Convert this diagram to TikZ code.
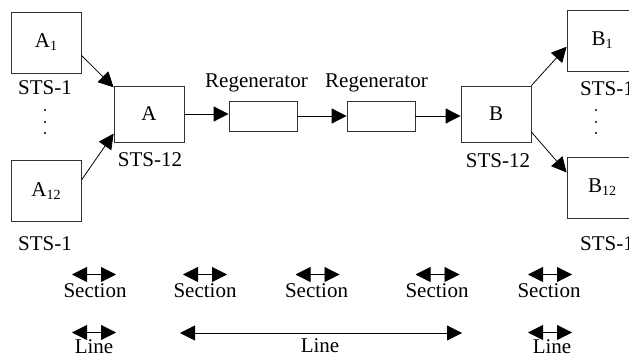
\documentclass[tikz,border=0pt]{standalone}
\usepackage{fontspec}
\setmainfont{Liberation Serif}
\usetikzlibrary{arrows.meta}
\newcommand\mysub[1]{\raisebox{-3pt}{\fontsize{14}{14}\selectfont #1}}
\begin{document}
\begin{tikzpicture}[x=1pt,y=-1pt,
  box/.style={draw=black!80,line width=0.8pt,rectangle,inner sep=0pt,minimum width=70pt,minimum height=61pt},
  arr/.style={line width=0.8pt,-{Triangle[length=15pt,width=15pt]}},
  darr/.style={line width=0.8pt,{Triangle[length=15pt,width=15pt]}-{Triangle[length=15pt,width=15pt]}},
  lbl/.style={anchor=base,inner sep=0pt},
  dot/.style={circle,fill=black,inner sep=0pt,minimum size=2.4pt},
  every node/.style={font=\fontsize{21}{25}\selectfont}]
\useasboundingbox (0,0) rectangle (629,358);
% boxes
\node[box] (A1) at (46,42.5) {A\mysub{1}};
\node[box] (A12) at (46,191) {A\mysub{12}};
\node[box,minimum height=56pt] (A) at (149,114) {A};
\node[box,minimum width=68pt,minimum height=30pt] (R1) at (263,116) {};
\node[box,minimum width=68pt,minimum height=30pt] (R2) at (381,116) {};
\node[box,minimum height=56pt] (B) at (496,114) {B};
\node[box] (B1) at (602,40.5) {B\mysub{1}};
\node[box] (B12) at (602,187.5) {B\mysub{12}};
% labels
\node[lbl] (sA1) at (45,95) {STS-1};
\node[lbl] (sA12) at (45,250) {STS-1};
\node[lbl] (sA) at (150,167) {STS-12};
\node[lbl] (sB) at (498,168) {STS-12};
\node[lbl] (sB1) at (607,96) {STS-1};
\node[lbl] (sB12) at (607,250) {STS-1};
\node[lbl] (r1) at (256.5,88) {Regenerator};
\node[lbl] (r2) at (376.5,88) {Regenerator};
% dots
\node[dot] (da1) at (45,110) {};
\node[dot] (da2) at (45,122) {};
\node[dot] (da3) at (45,133) {};
\node[dot] (db1) at (596,110) {};
\node[dot] (db2) at (596,122) {};
\node[dot] (db3) at (596,133) {};
% main connectors
\draw[arr] (A1.-20) -- (A.143);
\draw[arr] (A12.17) -- (A.-151);
\draw[arr] (A.east) -- (A.east -| R1.west);
\draw[arr] (R1.east) -- (R2.west);
\draw[arr] (R2.east) -- (R2.east -| B.west);
\draw[arr] (B.north east) -- (B1.190);
\draw[arr] (B.-27) -- (B12.157);
% section arrows
\foreach \c/\t [count=\i] in {94/95,205/205,317.5/316.5,437.5/437,550/549}{
  \coordinate (sl\i) at (\c-22,274.5);
  \coordinate (sr\i) at (\c+22,274.5);
  \draw[darr] (sl\i) -- (sr\i);
  \node[lbl] (sec\i) at (\t,297) {Section};
}
% line arrows
\coordinate (l1l) at (72,332.5);
\coordinate (l1r) at (116,332.5);
\draw[darr] (l1l) -- (l1r);
\node[lbl] (line1) at (94,353) {Line};
\coordinate (l2l) at (180,333);
\coordinate (l2r) at (462,333);
\draw[darr] (l2l) -- (l2r);
\node[lbl] (line2) at (320,352) {Line};
\coordinate (l3l) at (528,332.5);
\coordinate (l3r) at (572,332.5);
\draw[darr] (l3l) -- (l3r);
\node[lbl] (line3) at (552,353) {Line};
\end{tikzpicture}
\end{document}
